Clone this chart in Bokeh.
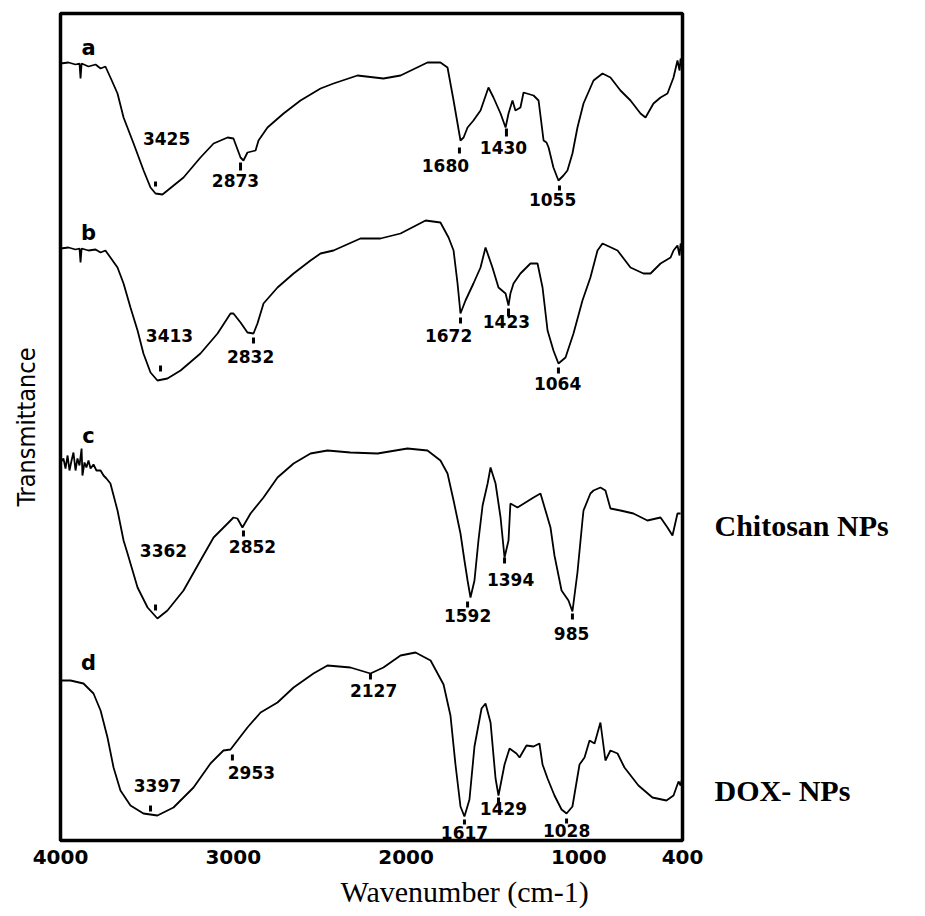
from bokeh.plotting import figure
from bokeh.models import Range1d, FixedTicker, LinearAxis, Title, ColumnDataSource
from bokeh.embed import file_html
from bokeh.resources import INLINE
from bokeh.core.properties import value

# ---------------- data (wavenumber cm-1, stacked transmittance, arbitrary units) -------------
wn_a = [4000, 3954, 3913, 3890, 3884, 3878, 3838, 3797, 3768, 3740, 3711, 3670, 3635, 3577, 3519,
        3479, 3450, 3410, 3381, 3288, 3190, 3114, 3033, 2999, 2958, 2941, 2918, 2871, 2854, 2802,
        2709, 2611, 2495, 2420, 2281, 2131, 2032, 1876, 1801, 1760, 1725, 1685, 1667, 1644, 1610,
        1569, 1523, 1494, 1453, 1424, 1407, 1384, 1367, 1338, 1320, 1262, 1233, 1204, 1187, 1175,
        1147, 1118, 1089, 1066, 1037, 1008, 973, 915, 863, 817, 759, 701, 643, 614, 568, 527, 487,
        452, 429, 417, 411, 405]
t_a = [777, 778, 776, 777, 762, 777, 774, 776, 772, 774, 763, 747, 723, 697, 670,
       653, 647, 646, 650, 663, 683, 697, 703, 702, 683, 680, 688, 690, 700, 713,
       727, 740, 752, 757, 765, 762, 765, 778, 778, 773, 740, 700, 703, 713, 720,
       730, 753, 743, 727, 713, 727, 740, 730, 733, 748, 745, 740, 700, 698, 693,
       673, 660, 665, 670, 687, 713, 737, 760, 767, 763, 750, 740, 727, 723, 737, 743, 747,
       763, 780, 770, 782, 775]

wn_b = [4000, 3954, 3913, 3890, 3884, 3878, 3838, 3797, 3768, 3740, 3711, 3670, 3635, 3595, 3554,
        3520, 3479, 3439, 3381, 3305, 3190, 3091, 3016, 2999, 2958, 2918, 2883, 2860, 2825, 2744,
        2651, 2553, 2495, 2420, 2264, 2148, 2032, 1887, 1801, 1754, 1725, 1702, 1685, 1656, 1610,
        1569, 1540, 1500, 1465, 1424, 1407, 1396, 1378, 1338, 1280, 1239, 1210, 1181, 1147, 1118,
        1077, 1031, 979, 933, 892, 863, 776, 701, 626, 585, 527, 469, 452, 429, 417, 411, 405]
t_b = [592, 593, 591, 592, 578, 592, 590, 591, 588, 590, 583, 573, 557, 533, 510,
       487, 468, 460, 462, 470, 487, 507, 527, 527, 518, 508, 507, 517, 537, 553,
       567, 580, 587, 590, 602, 602, 607, 620, 618, 603, 590, 557, 527, 540, 557,
       573, 593, 573, 553, 547, 535, 547, 557, 567, 577, 577, 553, 510, 490, 477,
       483, 507, 540, 563, 590, 597, 590, 573, 567, 567, 577, 583, 590, 595, 585, 597, 590]

wn_c = [4000, 3983, 3971, 3959, 3948, 3936, 3925, 3913, 3902, 3890, 3878, 3873, 3861, 3850, 3838,
        3826, 3809, 3792, 3768, 3751, 3734, 3711, 3670, 3635, 3612, 3554, 3496, 3439, 3381, 3288,
        3190, 3114, 3033, 2999, 2976, 2947, 2900, 2825, 2744, 2651, 2553, 2455, 2322, 2165, 1992,
        1876, 1801, 1760, 1725, 1685, 1662, 1644, 1627, 1604, 1581, 1557, 1528, 1511, 1482, 1453,
        1430, 1407, 1396, 1355, 1262, 1222, 1193, 1164, 1141, 1100, 1060, 1037, 1008, 979, 973,
        933, 915, 875, 846, 817, 759, 684, 603, 527, 487, 458, 429, 411]
t_c = [378, 382, 372, 385, 370, 380, 388, 370, 382, 375, 392, 365, 378, 373, 380,
       372, 376, 370, 370, 365, 362, 357, 330, 300, 287, 253, 233, 222, 230, 250,
       280, 303, 317, 323, 322, 313, 327, 343, 363, 377, 387, 390, 388, 387, 392,
       390, 380, 367, 340, 307, 280, 260, 243, 260, 300, 335, 357, 373, 357, 323,
       283, 300, 337, 333, 343, 347, 330, 313, 285, 250, 240, 229, 268, 320, 330,
       347, 350, 353, 350, 332, 330, 327, 320, 323, 313, 305, 327, 327]

wn_d = [4000, 3942, 3867, 3809, 3768, 3728, 3693, 3653, 3595, 3520, 3439, 3346, 3230, 3132, 3057,
        3016, 2976, 2918, 2842, 2744, 2651, 2536, 2455, 2322, 2206, 2131, 2032, 1945, 1858, 1783,
        1743, 1714, 1685, 1662, 1633, 1604, 1563, 1540, 1511, 1482, 1465, 1430, 1401, 1361, 1343,
        1303, 1262, 1228, 1210, 1181, 1141, 1100, 1071, 1037, 996, 967, 938, 909, 875, 846, 817,
        776, 736, 655, 574, 493, 452, 423, 411, 405]
t_d = [160, 160, 157, 147, 130, 103, 73, 50, 35, 27, 25, 33, 53, 77, 90,
       91, 100, 113, 128, 138, 153, 167, 175, 173, 167, 173, 185, 188, 180, 156,
       125, 76, 34, 24, 41, 94, 132, 137, 118, 62, 45, 76, 92, 87, 83,
       95, 94, 97, 76, 62, 45, 31, 27, 34, 76, 83, 100, 97, 118, 80, 90,
       87, 73, 55, 43, 40, 45, 59, 55, 60]

spectra = [(wn_a, t_a), (wn_b, t_b), (wn_c, t_c), (wn_d, t_d)]

# peak annotations
peak_text = ["3425", "2873", "1680", "1430", "1055",
             "3413", "2832", "1672", "1423", "1064",
             "3362", "2852", "1592", "1394", "985",
             "3397", "2953", "2127", "1617", "1429", "1028"]
peak_tick_wn = [3450, 2958, 1691, 1419, 1112,
                3421, 2883, 1685, 1407, 1118,
                3450, 2941, 1644, 1430, 1037,
                3479, 3005, 2206, 1662, 1465, 1071]
peak_tick_top = [659, 678, 693, 712, 655,
                 475, 503, 523, 532, 473,
                 236, 310, 239, 283, 227,
                 35, 86, 167, 21, 43, 22]
peak_tick_bot = [654, 670, 687, 704, 650,
                 469, 497, 517, 524, 467,
                 230, 304, 233, 277, 221,
                 29, 80, 161, 16, 37, 17]
label_x = [3386, 2987, 1772, 1436, 1152,
           3369, 2900, 1754, 1419, 1123,
           3404, 2889, 1644, 1395, 1042,
           3439, 2895, 2188, 1662, 1436, 1071]
label_y = [702, 660, 675, 693, 641,
           505, 484, 505, 519, 457,
           290, 294, 225, 261, 207,
           55, 68, 150, 8, 32, 10]

panel_letters = ["a", "b", "c", "d"]
panel_x = [3838, 3838, 3838, 3838]
panel_y = [793, 608, 405, 178]

sample_names = ["Chitosan NPs", "DOX- NPs"]
sample_y = [315, 50]

x_ticks = [4000, 3000, 2000, 1000, 400]

# ---------------- figure -------------
p = figure(frame_width=622, frame_height=827,
           x_range=Range1d(4000, 400), y_range=Range1d(0, 827),
           output_backend="svg", toolbar_location=None,
           min_border_left=60, min_border_right=243, min_border_top=13, min_border_bottom=60)
p.xgrid.visible = False
p.ygrid.visible = False
p.outline_line_color = "black"
p.outline_line_width = 3.5
p.background_fill_color = "white"
p.border_fill_color = "white"

xa = p.xaxis[0]
xa.ticker = FixedTicker(ticks=x_ticks)
xa.major_tick_in = 0
xa.major_tick_out = 0
xa.minor_tick_in = 0
xa.minor_tick_out = 0
xa.axis_line_color = None
xa.major_label_standoff = 9
xa.major_label_text_font = "DejaVu Sans"
xa.major_label_text_font_style = "bold"
xa.major_label_text_font_size = "20px"
xa.major_label_text_color = "black"

ya = p.yaxis[0]
ya.ticker = FixedTicker(ticks=[])
ya.major_tick_in = 0
ya.major_tick_out = 0
ya.minor_tick_in = 0
ya.minor_tick_out = 0
ya.axis_line_color = None
ya.axis_label = "Transmittance"
ya.axis_label_text_font = "DejaVu Sans Condensed, Liberation Sans"
ya.axis_label_text_font_style = "normal"
ya.axis_label_text_font_size = "25px"
ya.axis_label_text_color = "black"
ya.axis_label_standoff = 20

ra = LinearAxis(ticker=FixedTicker(ticks=sample_y),
                major_label_overrides={sample_y[0]: sample_names[0], sample_y[1]: sample_names[1]},
                major_tick_in=0, major_tick_out=0, minor_tick_in=0, minor_tick_out=0,
                axis_line_color=None, major_label_standoff=32,
                major_label_text_font="Liberation Serif", major_label_text_font_style="bold",
                major_label_text_font_size="30px", major_label_text_color="black")
p.add_layout(ra, "right")

p.add_layout(Title(text="Wavenumber (cm-1)", align="left", offset=280, standoff=12,
                   text_font="Liberation Serif", text_font_style="normal",
                   text_font_size="30px", text_color="black"), "below")

for wn, t in spectra:
    p.line(wn, t, line_color="black", line_width=1.8)

p.segment(x0=peak_tick_wn, y0=peak_tick_bot, x1=peak_tick_wn, y1=peak_tick_top,
          line_color="black", line_width=3)

src = ColumnDataSource(dict(x=label_x, y=label_y, text=peak_text))
p.text(x="x", y="y", text="text", source=src, text_font=value("DejaVu Sans"),
       text_font_style="bold", text_font_size="17px", text_align="center",
       text_baseline="middle", text_color="black")

src2 = ColumnDataSource(dict(x=panel_x, y=panel_y, text=panel_letters))
p.text(x="x", y="y", text="text", source=src2, text_font=value("DejaVu Sans"),
       text_font_style="bold", text_font_size="21px", text_align="center",
       text_baseline="middle", text_color="black")

open("out.html", "w").write(file_html(p, INLINE))
